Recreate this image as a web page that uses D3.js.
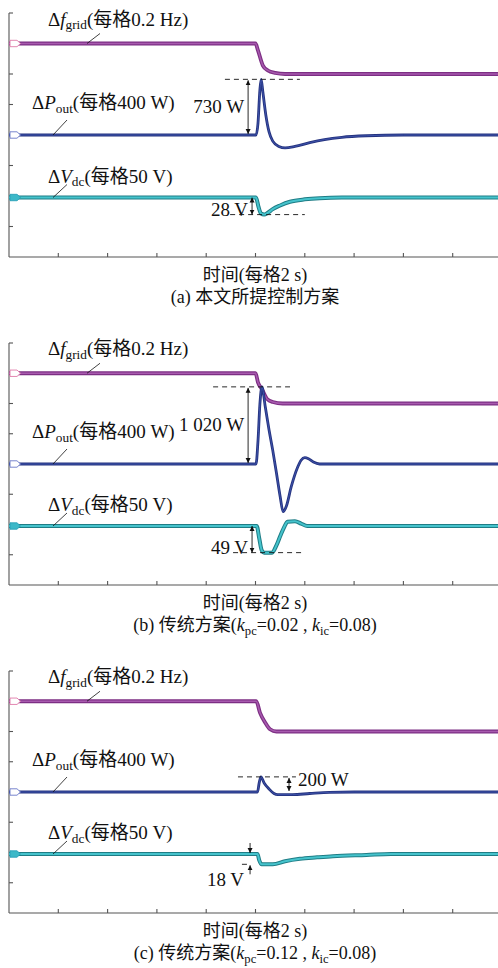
<!DOCTYPE html>
<html>
<head>
<meta charset="utf-8">
<script src="https://cdn.jsdelivr.net/npm/d3@7"></script>
<style>
  body { margin: 0; background: #fff; }
  svg { display: block; font-family: "Liberation Serif", "Times New Roman", "Noto Sans CJK SC", serif; }
</style>
</head>
<body>
<svg id="chart" width="498" height="968"></svg>
<script>
// time axis: 2 s per division, 10 divisions; y: 8 divisions
const timeTicks = [0, 2, 4, 6, 8, 10, 12, 14, 16, 18, 20];
const divTicks = [0, 1, 2, 3, 4, 5, 6, 7, 8];

// [t (s), value]
// (a) proposed scheme
const fA = [[0,0],[10.0,0],[10.1,-0.045],[10.3,-0.145],[10.5,-0.177],[10.8,-0.193],[11.2,-0.2],[20,-0.2]];
const pA = [[0,0],[10.02,0],[10.1,150],[10.18,600],[10.23,730],[10.3,560],[10.42,260],[10.55,40],[10.7,-80],[10.95,-150],[11.2,-170],[11.6,-150],[12.2,-100],[12.8,-60],[13.5,-30],[14.5,-10],[16,0],[20,0]];
const vA = [[0,0],[10.02,0],[10.12,-15],[10.22,-26],[10.35,-28],[10.5,-25],[10.7,-19],[11.0,-13],[11.4,-7],[12.0,-3],[12.6,-1],[13.5,0],[20,0]];
// (b) conventional kpc=0.02
const fB = [[0,0],[10.0,0],[10.1,-0.06],[10.26,-0.105],[10.47,-0.17],[10.7,-0.19],[11.1,-0.2],[20,-0.2]];
const pB = [[0,0],[10.02,0],[10.1,300],[10.18,800],[10.26,1020],[10.4,750],[10.55,450],[10.7,180],[10.85,-120],[11.0,-430],[11.12,-630],[11.25,-560],[11.45,-300],[11.7,-50],[11.85,50],[12.0,85],[12.15,70],[12.35,25],[12.6,0],[20,0]];
const vB = [[0,0],[10.05,0],[10.15,-20],[10.25,-40],[10.35,-44],[10.67,-44],[10.85,-32],[11.0,-17],[11.15,-3],[11.3,7],[11.6,8],[11.85,4],[12.1,0],[20,0]];
// (c) conventional kpc=0.12
const fC = [[0,0],[10.03,0],[10.18,-0.075],[10.39,-0.14],[10.59,-0.185],[10.85,-0.2],[20,-0.2]];
const pC = [[0,0],[10.08,0],[10.15,120],[10.22,200],[10.35,120],[10.55,40],[10.75,-20],[10.9,-35],[11.5,-35],[12.2,-20],[13,-5],[14,0],[20,0]];
const vC = [[0,0],[10.08,0],[10.15,-10],[10.25,-17],[10.7,-17],[11.2,-12],[11.8,-8],[12.5,-5.5],[13.14,-3.5],[14.5,-1.5],[15.5,0],[20,0]];

// channel scale (value per division) and screen offset (division)
const perDiv = { f: 0.2, p: 400, v: 50 };
const channelDiv = { f: 7, p: 4, v: 1.95 };

const axisTitle = "时间(每格2 s)";
const captions = [
  [{t: "(a) 本文所提控制方案"}],
  [{t: "(b) 传统方案("}, {t: "k", i: 1}, {t: "pc", sub: 1}, {t: "=0.02 , "}, {t: "k", i: 1}, {t: "ic", sub: 1}, {t: "=0.08)"}],
  [{t: "(c) 传统方案("}, {t: "k", i: 1}, {t: "pc", sub: 1}, {t: "=0.12 , "}, {t: "k", i: 1}, {t: "ic", sub: 1}, {t: "=0.08)"}]
];
const labelF = [{t: "Δ"}, {t: "f", i: 1}, {t: "grid", sub: 1}, {t: "(每格0.2 Hz)"}];
const labelP = [{t: "Δ"}, {t: "P", i: 1}, {t: "out", sub: 1}, {t: "(每格400 W)"}];
const labelV = [{t: "Δ"}, {t: "V", i: 1}, {t: "dc", sub: 1}, {t: "(每格50 V)"}];

// annotations: times in s
const notes = [
  { p: {val: 730, t0: 8.76, t1: 11.8, ta: 9.7, text: "730 W", side: "left"},
    v: {val: -28, t0: 8.97, t1: 12.0, ta: 9.86, text: "28 V"} },
  { p: {val: 1020, t0: 8.28, t1: 11.4, ta: 9.7, text: "1 020 W", side: "left"},
    v: {val: -44, t0: 9.09, t1: 11.9, ta: 9.86, text: "49 V"} },
  { p: {val: 200, t0: 9.29, t1: 11.64, ta: 11.36, text: "200 W", side: "right"},
    v: {val: -17, t0: 9.45, t1: 9.7, ta: 9.78, text: "18 V", outside: true} }
];

const panelData = [
  { f: fA, p: pA, v: vA },
  { f: fB, p: pB, v: vB },
  { f: fC, p: pC, v: vC }
];

const layout = [
  { top: 13, bottom: 257 },
  { top: 343, bottom: 585 },
  { top: 671, bottom: 913 }
];

const colors = {
  f: { under: "#7d2f84", over: "#a75aae", w: [3.8, 1.5] },
  p: { under: "#25337f", over: "#3d52aa", w: [2.8, 1.0] },
  v: { under: "#1f7d86", over: "#45c3cc", w: [4.0, 2.0] }
};

const svg = d3.select("#chart");
const FS = 19;      // labels and annotations
const FT = 18;      // axis title and caption

svg.append("defs").append("marker")
  .attr("id", "ah").attr("viewBox", "0 0 10 10")
  .attr("refX", 10).attr("refY", 5)
  .attr("markerWidth", 5).attr("markerHeight", 6)
  .attr("markerUnits", "userSpaceOnUse")
  .attr("orient", "auto-start-reverse")
  .append("path").attr("d", "M0,0 L10,5 L0,10 z").attr("fill", "#111");

function richText(g, x, y, parts, size, anchor) {
  const t = g.append("text").attr("x", x).attr("y", y)
    .attr("font-size", size).attr("text-anchor", anchor || "start").attr("fill", "#111");
  let down = false;
  parts.forEach(p => {
    const s = t.append("tspan").text(p.t);
    if (p.i) s.attr("font-style", "italic");
    if (p.sub) {
      s.attr("font-size", size * 0.7);
      if (!down) { s.attr("dy", size * 0.2); down = true; }
    } else if (down) {
      s.attr("dy", -size * 0.2); down = false;
    }
  });
  return t;
}

const x = d3.scaleLinear().domain([0, 20]).range([9, 502]);

panelData.forEach((d, i) => {
  const L = layout[i];
  const g = svg.append("g");
  const yDiv = d3.scaleLinear().domain([0, 8]).range([L.bottom, L.top]);
  const yOf = ch => v => yDiv(channelDiv[ch] + v / perDiv[ch]);

  // axes
  const axisG = g.append("g").attr("stroke", "#555").attr("stroke-width", 1.1);
  axisG.append("line").attr("x1", x(0)).attr("x2", x(0)).attr("y1", L.top).attr("y2", L.bottom);
  axisG.append("line").attr("x1", x(0)).attr("x2", x(20)).attr("y1", L.bottom).attr("y2", L.bottom);
  axisG.selectAll(".yt").data(divTicks.slice(1)).join("line")
    .attr("x1", x(0)).attr("x2", x(0) + 4)
    .attr("y1", dv => yDiv(dv)).attr("y2", dv => yDiv(dv));
  axisG.selectAll(".xt").data(timeTicks.slice(1, -1)).join("line")
    .attr("x1", t => x(t)).attr("x2", t => x(t))
    .attr("y1", L.bottom).attr("y2", L.bottom - 4);

  // traces
  ["f", "p", "v"].forEach(ch => {
    const y = yOf(ch);
    const line = d3.line().x(p => x(p[0])).y(p => y(p[1])).curve(d3.curveMonotoneX);
    const c = colors[ch];
    g.append("path").attr("d", line(d[ch])).attr("fill", "none")
      .attr("stroke", c.under).attr("stroke-width", c.w[0]).attr("stroke-linejoin", "round");
    g.append("path").attr("d", line(d[ch])).attr("fill", "none")
      .attr("stroke", c.over).attr("stroke-width", c.w[1]).attr("stroke-linejoin", "round");
    // channel marker tag
    const y0 = y(0);
    g.append("path")
      .attr("d", `M10,${y0 - 3.2} H17 L20.5,${y0} L17,${y0 + 3.2} H10 Z`)
      .attr("fill", ch === "v" ? "#3cb8c8" : "#fff")
      .attr("stroke", ch === "f" ? "#e07aa8" : ch === "p" ? "#6a78c8" : "#2aa0b8")
      .attr("stroke-width", 0.9);
  });

  // labels + leader lines
  const yf = yOf("f")(0), yp = yOf("p")(0), yv = yOf("v")(0);
  richText(g, 48, yf - 18, labelF, FS);
  richText(g, 32, yp - 26, labelP, FS);
  richText(g, 48, yv - 15, labelV, FS);
  const lead = g.append("g").attr("stroke", "#111").attr("stroke-width", 0.8);
  lead.append("line").attr("x1", 100).attr("y1", yf - 10).attr("x2", 87).attr("y2", yf);
  lead.append("line").attr("x1", 67).attr("y1", yp - 15).attr("x2", 53).attr("y2", yp);
  lead.append("line").attr("x1", 67).attr("y1", yv - 13).attr("x2", 53).attr("y2", yv);

  // annotations
  const n = notes[i];
  const ann = g.append("g").attr("stroke", "#111").attr("stroke-width", 0.9);
  const yPk = yOf("p")(n.p.val);
  ann.append("line").attr("x1", x(n.p.t0)).attr("x2", x(n.p.t1))
    .attr("y1", yPk).attr("y2", yPk).attr("stroke-dasharray", "5,4");
  ann.append("line").attr("x1", x(n.p.ta)).attr("x2", x(n.p.ta))
    .attr("y1", yp - 1).attr("y2", yPk + 1)
    .attr("marker-start", "url(#ah)").attr("marker-end", "url(#ah)");
  if (n.p.side === "left") {
    g.append("text").attr("x", x(n.p.ta) - 4).attr("y", (yp + yPk) / 2 + 6)
      .attr("text-anchor", "end").attr("font-size", FS).attr("fill", "#111").text(n.p.text);
  } else {
    g.append("text").attr("x", x(n.p.t1) + 2).attr("y", yPk + 9)
      .attr("text-anchor", "start").attr("font-size", FS).attr("fill", "#111").text(n.p.text);
  }

  const yDip = yOf("v")(n.v.val);
  ann.append("line").attr("x1", x(n.v.t0)).attr("x2", x(n.v.t1))
    .attr("y1", yDip).attr("y2", yDip).attr("stroke-dasharray", "5,4");
  if (!n.v.outside) {
    ann.append("line").attr("x1", x(n.v.ta)).attr("x2", x(n.v.ta))
      .attr("y1", yv).attr("y2", yDip)
      .attr("marker-start", "url(#ah)").attr("marker-end", "url(#ah)");
    g.append("text").attr("x", x(n.v.ta) - 4).attr("y", yDip + 1)
      .attr("text-anchor", "end").attr("font-size", FS).attr("fill", "#111").text(n.v.text);
  } else {
    ann.append("line").attr("x1", x(n.v.ta)).attr("x2", x(n.v.ta))
      .attr("y1", yv - 11).attr("y2", yv - 1).attr("marker-end", "url(#ah)");
    ann.append("line").attr("x1", x(n.v.ta)).attr("x2", x(n.v.ta))
      .attr("y1", yDip + 10).attr("y2", yDip + 1).attr("marker-end", "url(#ah)");
    g.append("text").attr("x", x(n.v.ta) - 6).attr("y", yDip + 22)
      .attr("text-anchor", "end").attr("font-size", FS).attr("fill", "#111").text(n.v.text);
  }

  // axis title + caption
  g.append("text").attr("x", 255).attr("y", L.bottom + 24)
    .attr("text-anchor", "middle").attr("font-size", FT).attr("fill", "#111").text(axisTitle);
  richText(g, 255, L.bottom + 46, captions[i], FT, "middle");
});
</script>
</body>
</html>
